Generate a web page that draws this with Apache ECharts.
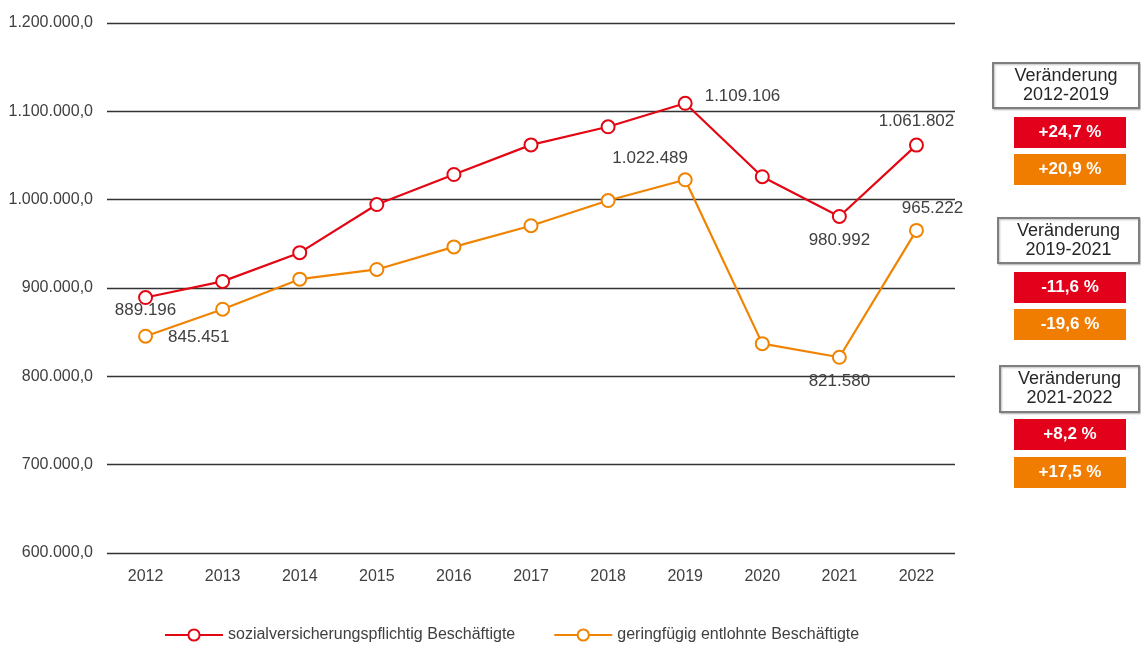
<!DOCTYPE html>
<html><head><meta charset="utf-8">
<script src="https://cdn.jsdelivr.net/npm/echarts@6/dist/echarts.min.js"></script>
<style>html,body{margin:0;padding:0;background:#fff}#c{width:1141px;height:646px}</style>
</head><body><div id="c"></div>
<script>
const years = ['2012','2013','2014','2015','2016','2017','2018','2019','2020','2021','2022'];
const sozial = [889196, 907500, 940000, 994500, 1028500, 1062000, 1082500, 1109106, 1026000, 980992, 1061802];
const gering = [845451, 876000, 910000, 921000, 946500, 970500, 999000, 1022489, 837000, 821580, 965222];
const seriesNames = ['sozialversicherungspflichtig Beschäftigte', 'geringfügig entlohnte Beschäftigte'];
const labeledSozial = {0:'b0', 7:'r', 9:'bottom', 10:'top'};
const labeledGering = {0:'right', 7:'tl', 9:'bottom', 10:'tr'};
const changeTitles = ['Veränderung\n2012-2019', 'Veränderung\n2019-2021', 'Veränderung\n2021-2022'];
const changeSozial = ['+24,7 %', '-11,6 %', '+8,2 %'];
const changeGering = ['+20,9 %', '-19,6 %', '+17,5 %'];

const FONT = "'Liberation Sans Narrow','Arial Narrow','Liberation Sans',Arial,sans-serif";
const RED = '#E30613', ORANGE = '#F08300';
const fmtDE = v => String(v).replace(/\B(?=(\d{3})+(?!\d))/g, '.');
const fmtAxis = v => fmtDE(v) + ',0';

function labelCfg(pos) {
  const base = {show: true, fontFamily: FONT, fontSize: 17, color: '#404040', formatter: p => fmtDE(p.value)};
  if (pos === 'b0') return Object.assign(base, {position: 'bottom', distance: -3});
  if (pos === 'bottom') return Object.assign(base, {position: 'bottom', distance: 8});
  if (pos === 'top') return Object.assign(base, {position: 'top', distance: 8});
  if (pos === 'right') return Object.assign(base, {position: 'right', distance: 15, offset:[0,1]});
  if (pos === 'r') return Object.assign(base, {position: 'right', distance: 12, offset:[0,-7]});
  if (pos === 'tl') return Object.assign(base, {position: 'top', distance: 5, offset:[-35,0]});
  if (pos === 'tr') return Object.assign(base, {position: 'top', distance: 6, offset:[16,0]});
  return base;
}
function buildData(vals, labeled) {
  return vals.map((v, i) => labeled[i] ? {value: v, label: labelCfg(labeled[i])} : {value: v});
}

const graphics = [];
const boxes = [
  {hx:993, hy:63, hw:146, hh:45, ry:117, oy:154},
  {hx:998, hy:218, hw:141, hh:45, ry:272, oy:309},
  {hx:1000, hy:366, hw:139, hh:46, ry:419, oy:457}
];
boxes.forEach((b, i) => {
  graphics.push({type:'rect', shape:{x:b.hx, y:b.hy, width:b.hw, height:b.hh},
    style:{fill:'#fff', stroke:'#7f7f7f', lineWidth:2, shadowBlur:2, shadowColor:'rgba(0,0,0,0.25)', shadowOffsetX:1, shadowOffsetY:1}});
  graphics.push({type:'text', x:b.hx + b.hw/2, y:b.hy + b.hh/2,
    style:{text:changeTitles[i], fill:'#262626', font:'18px ' + FONT, align:'center', verticalAlign:'middle', lineHeight:19}});
  graphics.push({type:'rect', shape:{x:1014, y:b.ry, width:112, height:31}, style:{fill:'#E2001A'}});
  graphics.push({type:'text', x:1070, y:b.ry + 15.5,
    style:{text:changeSozial[i], fill:'#fff', font:'bold 17px ' + FONT, align:'center', verticalAlign:'middle'}});
  graphics.push({type:'rect', shape:{x:1014, y:b.oy, width:112, height:31}, style:{fill:'#F07D00'}});
  graphics.push({type:'text', x:1070, y:b.oy + 15.5,
    style:{text:changeGering[i], fill:'#fff', font:'bold 17px ' + FONT, align:'center', verticalAlign:'middle'}});
});

const chart = echarts.init(document.getElementById('c'), null, {renderer:'canvas'});
chart.setOption({
  animation: false,
  textStyle: {fontFamily: FONT},
  grid: {left: 107, right: 186, top: 23, bottom: 93, containLabel: false},
  legend: {
    bottom: -2, left: 159, itemWidth: 58, itemHeight: 14, itemGap: 38,
    textStyle: {fontFamily: FONT, fontSize: 16, color: '#404040'},
    data: seriesNames
  },
  xAxis: {
    type: 'category', data: years, boundaryGap: true,
    axisLine: {show: false}, axisTick: {show: false},
    axisLabel: {fontFamily: FONT, fontSize: 16, color: '#404040', margin: 16}
  },
  yAxis: {
    type: 'value', min: 600000, max: 1200000, interval: 100000,
    axisLine: {show: false}, axisTick: {show: false},
    splitLine: {lineStyle: {color: '#333', width: 1.3}},
    axisLabel: {fontFamily: FONT, fontSize: 16, color: '#404040', margin: 14, formatter: fmtAxis}
  },
  series: [
    {name: seriesNames[0], type: 'line', data: buildData(sozial, labeledSozial),
     symbol: 'circle', symbolSize: 13, showAllSymbol: true,
     itemStyle: {color: '#fff', borderColor: RED, borderWidth: 2},
     lineStyle: {color: RED, width: 2.2}, z: 3},
    {name: seriesNames[1], type: 'line', data: buildData(gering, labeledGering),
     symbol: 'circle', symbolSize: 13, showAllSymbol: true,
     itemStyle: {color: '#fff', borderColor: ORANGE, borderWidth: 2},
     lineStyle: {color: ORANGE, width: 2.2}, z: 2}
  ],
  graphic: graphics
});
</script></body></html>
